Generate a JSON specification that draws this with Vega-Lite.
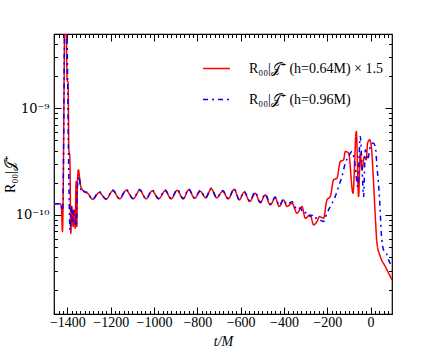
{
  "$schema": "https://vega.github.io/schema/vega-lite/v6.json",
  "width": 338,
  "height": 280,
  "autosize": "none",
  "padding": {"left": 54, "top": 34, "right": 44, "bottom": 35},
  "background": "white",
  "config": {
    "view": {"stroke": "black", "strokeWidth": 1.2},
    "font": "Liberation Serif",
    "axis": {"domain": false, "grid": false, "labelFont": "Liberation Serif", "labelFontSize": 14, "labelColor": "black", "tickColor": "black", "tickWidth": 1, "titleFont": "Liberation Serif", "titleFontWeight": "normal", "titleFontSize": 14, "titleColor": "black"}
  },
  "data": {"values": [
    {"s": "A", "t": -1461, "R": 1.27e-10},
    {"s": "A", "t": -1434, "R": 1.27e-10},
    {"s": "A", "t": -1428, "R": 1.2e-10},
    {"s": "A", "t": -1423, "R": 7.0e-11},
    {"s": "A", "t": -1409, "R": 2.0e-8},
    {"s": "A", "t": -1401.4, "R": 1.84e-9},
    {"s": "A", "t": -1396.8, "R": 1.73e-9},
    {"s": "A", "t": -1393.5, "R": 4.06e-10},
    {"s": "A", "t": -1388.9, "R": 3.52e-10},
    {"s": "A", "t": -1384.3, "R": 6.7e-11},
    {"s": "A", "t": -1379.7, "R": 1.2e-10},
    {"s": "A", "t": -1373.7, "R": 7.77e-11},
    {"s": "A", "t": -1369, "R": 1.11e-10},
    {"s": "A", "t": -1364.4, "R": 7.5e-11},
    {"s": "A", "t": -1359.8, "R": 2.05e-10},
    {"s": "A", "t": -1356.6, "R": 7.77e-11},
    {"s": "A", "t": -1353.8, "R": 1.98e-10},
    {"s": "A", "t": -1349.2, "R": 2.64e-10},
    {"s": "A", "t": -1342.7, "R": 2.13e-10},
    {"s": "A", "t": -1338.1, "R": 1.84e-10},
    {"s": "A", "t": -1330.7, "R": 1.72e-10},
    {"s": "A", "t": -1322.8, "R": 1.65e-10},
    {"s": "A", "t": -1307.6, "R": 1.6e-10},
    {"s": "A", "t": -1283.6, "R": 1.397e-10},
    {"s": "A", "t": -1253.5, "R": 1.618e-10},
    {"s": "A", "t": -1221.2, "R": 1.403e-10},
    {"s": "A", "t": -1190.2, "R": 1.679e-10},
    {"s": "A", "t": -1158.8, "R": 1.413e-10},
    {"s": "A", "t": -1128.7, "R": 1.697e-10},
    {"s": "A", "t": -1096.4, "R": 1.413e-10},
    {"s": "A", "t": -1066.4, "R": 1.697e-10},
    {"s": "A", "t": -1036.3, "R": 1.413e-10},
    {"s": "A", "t": -1008.6, "R": 1.679e-10},
    {"s": "A", "t": -978.6, "R": 1.413e-10},
    {"s": "A", "t": -948.5, "R": 1.679e-10},
    {"s": "A", "t": -920.8, "R": 1.413e-10},
    {"s": "A", "t": -893.1, "R": 1.697e-10},
    {"s": "A", "t": -865.4, "R": 1.413e-10},
    {"s": "A", "t": -839.9, "R": 1.715e-10},
    {"s": "A", "t": -812.2, "R": 1.428e-10},
    {"s": "A", "t": -786.8, "R": 1.661e-10},
    {"s": "A", "t": -761.4, "R": 1.443e-10},
    {"s": "A", "t": -736, "R": 1.753e-10},
    {"s": "A", "t": -710.5, "R": 1.443e-10},
    {"s": "A", "t": -682.8, "R": 1.661e-10},
    {"s": "A", "t": -657.4, "R": 1.413e-10},
    {"s": "A", "t": -629.7, "R": 1.734e-10},
    {"s": "A", "t": -606.6, "R": 1.382e-10},
    {"s": "A", "t": -583.5, "R": 1.632e-10},
    {"s": "A", "t": -558, "R": 1.338e-10},
    {"s": "A", "t": -532.6, "R": 1.597e-10},
    {"s": "A", "t": -509.5, "R": 1.296e-10},
    {"s": "A", "t": -486.4, "R": 1.539e-10},
    {"s": "A", "t": -463.3, "R": 1.241e-10},
    {"s": "A", "t": -440.2, "R": 1.443e-10},
    {"s": "A", "t": -421.7, "R": 1.201e-10},
    {"s": "A", "t": -401.9, "R": 1.382e-10},
    {"s": "A", "t": -386.2, "R": 1.196e-10},
    {"s": "A", "t": -363, "R": 1.287e-10},
    {"s": "A", "t": -339.9, "R": 1.037e-10},
    {"s": "A", "t": -316.8, "R": 1.196e-10},
    {"s": "A", "t": -301.6, "R": 9.31e-11},
    {"s": "A", "t": -278.5, "R": 1.0e-10},
    {"s": "A", "t": -263.2, "R": 8.06e-11},
    {"s": "A", "t": -247.5, "R": 8.65e-11},
    {"s": "A", "t": -235.5, "R": 9.64e-11},
    {"s": "A", "t": -217, "R": 9.31e-11},
    {"s": "A", "t": -201.3, "R": 1.382e-10},
    {"s": "A", "t": -186.1, "R": 1.484e-10},
    {"s": "A", "t": -170.8, "R": 2.128e-10},
    {"s": "A", "t": -155.1, "R": 2.208e-10},
    {"s": "A", "t": -139.8, "R": 3.16e-10},
    {"s": "A", "t": -124.6, "R": 3.28e-10},
    {"s": "A", "t": -116.7, "R": 3.92e-10},
    {"s": "A", "t": -101.5, "R": 3.79e-10},
    {"s": "A", "t": -81.2, "R": 1.597e-10},
    {"s": "A", "t": -65.9, "R": 6.03e-10},
    {"s": "A", "t": -55.3, "R": 1.484e-10},
    {"s": "A", "t": -47.4, "R": 3.79e-10},
    {"s": "A", "t": -39.6, "R": 2.64e-10},
    {"s": "A", "t": -28.9, "R": 3.52e-10},
    {"s": "A", "t": -19.7, "R": 3.28e-10},
    {"s": "A", "t": -13.7, "R": 4.7e-10},
    {"s": "A", "t": -4.5, "R": 5.05e-10},
    {"s": "A", "t": 3.4, "R": 4.37e-10},
    {"s": "A", "t": 14, "R": 1.982e-10},
    {"s": "A", "t": 21.9, "R": 9.64e-11},
    {"s": "A", "t": 29.7, "R": 5.43e-11},
    {"s": "A", "t": 45, "R": 4.07e-11},
    {"s": "A", "t": 68.1, "R": 3.28e-11},
    {"s": "A", "t": 99, "R": 2.46e-11},
    {"s": "B", "t": -1461, "R": 1.27e-10},
    {"s": "B", "t": -1434, "R": 1.27e-10},
    {"s": "B", "t": -1422, "R": 1.1e-10},
    {"s": "B", "t": -1409, "R": 2.5e-8},
    {"s": "B", "t": -1400, "R": 2.64e-9},
    {"s": "B", "t": -1395.4, "R": 4.06e-10},
    {"s": "B", "t": -1387.5, "R": 7.2e-11},
    {"s": "B", "t": -1381.5, "R": 1.2e-10},
    {"s": "B", "t": -1376.9, "R": 8.36e-11},
    {"s": "B", "t": -1372.3, "R": 1.11e-10},
    {"s": "B", "t": -1365.8, "R": 9.6e-11},
    {"s": "B", "t": -1359.8, "R": 7.77e-11},
    {"s": "B", "t": -1353.8, "R": 1.84e-10},
    {"s": "B", "t": -1346, "R": 2.29e-10},
    {"s": "B", "t": -1338.1, "R": 1.72e-10},
    {"s": "B", "t": -1330.7, "R": 1.78e-10},
    {"s": "B", "t": -1322.8, "R": 1.65e-10},
    {"s": "B", "t": -1307.6, "R": 1.62e-10},
    {"s": "B", "t": -1283.6, "R": 1.4e-10},
    {"s": "B", "t": -1253.5, "R": 1.65e-10},
    {"s": "B", "t": -1221.2, "R": 1.41e-10},
    {"s": "B", "t": -1190.2, "R": 1.71e-10},
    {"s": "B", "t": -1158.8, "R": 1.42e-10},
    {"s": "B", "t": -1128.7, "R": 1.73e-10},
    {"s": "B", "t": -1096.4, "R": 1.42e-10},
    {"s": "B", "t": -1066.4, "R": 1.73e-10},
    {"s": "B", "t": -1036.3, "R": 1.42e-10},
    {"s": "B", "t": -1008.6, "R": 1.71e-10},
    {"s": "B", "t": -978.6, "R": 1.42e-10},
    {"s": "B", "t": -948.5, "R": 1.71e-10},
    {"s": "B", "t": -920.8, "R": 1.42e-10},
    {"s": "B", "t": -893.1, "R": 1.73e-10},
    {"s": "B", "t": -865.4, "R": 1.42e-10},
    {"s": "B", "t": -839.9, "R": 1.75e-10},
    {"s": "B", "t": -812.2, "R": 1.44e-10},
    {"s": "B", "t": -786.8, "R": 1.69e-10},
    {"s": "B", "t": -761.4, "R": 1.45e-10},
    {"s": "B", "t": -736, "R": 1.78e-10},
    {"s": "B", "t": -710.5, "R": 1.45e-10},
    {"s": "B", "t": -682.8, "R": 1.69e-10},
    {"s": "B", "t": -657.4, "R": 1.42e-10},
    {"s": "B", "t": -629.7, "R": 1.76e-10},
    {"s": "B", "t": -606.6, "R": 1.39e-10},
    {"s": "B", "t": -583.5, "R": 1.66e-10},
    {"s": "B", "t": -558, "R": 1.35e-10},
    {"s": "B", "t": -532.6, "R": 1.63e-10},
    {"s": "B", "t": -509.5, "R": 1.31e-10},
    {"s": "B", "t": -486.4, "R": 1.57e-10},
    {"s": "B", "t": -463.3, "R": 1.26e-10},
    {"s": "B", "t": -440.2, "R": 1.47e-10},
    {"s": "B", "t": -421.7, "R": 1.22e-10},
    {"s": "B", "t": -401.9, "R": 1.4e-10},
    {"s": "B", "t": -386.2, "R": 1.25e-10},
    {"s": "B", "t": -363, "R": 1.33e-10},
    {"s": "B", "t": -340, "R": 1.12e-10},
    {"s": "B", "t": -324.7, "R": 1.16e-10},
    {"s": "B", "t": -310, "R": 1.03e-10},
    {"s": "B", "t": -293.7, "R": 1.06e-10},
    {"s": "B", "t": -280, "R": 9.7e-11},
    {"s": "B", "t": -270.6, "R": 9.9e-11},
    {"s": "B", "t": -258, "R": 9.2e-11},
    {"s": "B", "t": -247.5, "R": 9.4e-11},
    {"s": "B", "t": -230, "R": 8.9e-11},
    {"s": "B", "t": -217, "R": 8.65e-11},
    {"s": "B", "t": -201.3, "R": 1.037e-10},
    {"s": "B", "t": -186.1, "R": 1.196e-10},
    {"s": "B", "t": -163, "R": 1.484e-10},
    {"s": "B", "t": -147.7, "R": 1.842e-10},
    {"s": "B", "t": -132, "R": 2.286e-10},
    {"s": "B", "t": -116.7, "R": 3.05e-10},
    {"s": "B", "t": -101.5, "R": 3.52e-10},
    {"s": "B", "t": -85.8, "R": 3.92e-10},
    {"s": "B", "t": -70.5, "R": 2.84e-10},
    {"s": "B", "t": -59.9, "R": 1.842e-10},
    {"s": "B", "t": -47.4, "R": 5.42e-10},
    {"s": "B", "t": -39.6, "R": 2.84e-10},
    {"s": "B", "t": -32.2, "R": 1.484e-10},
    {"s": "B", "t": -24.3, "R": 4.07e-10},
    {"s": "B", "t": -13.7, "R": 3.28e-10},
    {"s": "B", "t": -1.2, "R": 4.37e-10},
    {"s": "B", "t": 11.3, "R": 4.7e-10},
    {"s": "B", "t": 21.9, "R": 4.37e-10},
    {"s": "B", "t": 29.7, "R": 2.84e-10},
    {"s": "B", "t": 41.8, "R": 1.382e-10},
    {"s": "B", "t": 49.6, "R": 6.74e-11},
    {"s": "B", "t": 60.2, "R": 4.7e-11},
    {"s": "B", "t": 72.7, "R": 4.38e-11},
    {"s": "B", "t": 83.3, "R": 3.79e-11},
    {"s": "B", "t": 99, "R": 3.28e-11}
  ]},
  "layer": [
    {
      "mark": {"type": "line", "clip": true, "interpolate": "monotone", "strokeWidth": 1.5},
      "encoding": {
        "x": {"field": "t", "type": "quantitative", "title": "t/M",
          "scale": {"domain": [-1462, 99], "nice": false, "zero": false},
          "axis": {"values": [-1460,-1440,-1420,-1400,-1380,-1360,-1340,-1320,-1300,-1280,-1260,-1240,-1220,-1200,-1180,-1160,-1140,-1120,-1100,-1080,-1060,-1040,-1020,-1000,-980,-960,-940,-920,-900,-880,-860,-840,-820,-800,-780,-760,-740,-720,-700,-680,-660,-640,-620,-600,-580,-560,-540,-520,-500,-480,-460,-440,-420,-400,-380,-360,-340,-320,-300,-280,-260,-240,-220,-200,-180,-160,-140,-120,-100,-80,-60,-40,-20,0,20,40,60,80],
            "format": "d", "labelExpr": "datum.value % 200 === 0 ? datum.label : ''",
            "tickSize": {"condition": {"test": "datum.value % 200 === 0", "value": -7}, "value": -3.5},
            "labelPadding": 8, "labelFlush": false, "labelOverlap": false, "titleFontStyle": "italic", "titlePadding": 2}
        },
        "y": {"field": "R", "type": "quantitative", "title": "R₀₀|𝒥⁺",
          "scale": {"type": "log", "domain": [1.18e-11, 4.94e-9], "nice": false},
          "axis": {"values": [2e-11,3e-11,4e-11,5e-11,6e-11,7e-11,8e-11,9e-11,1e-10,2e-10,3e-10,4e-10,5e-10,6e-10,7e-10,8e-10,9e-10,1e-9,2e-9,3e-9,4e-9],
            "labelExpr": "abs(datum.value - 1e-9) < 1e-12 ? '10⁻⁹' : (abs(datum.value - 1e-10) < 1e-13 ? '10⁻¹⁰' : '')",
            "labelFont": "DejaVu Serif", "labelFontSize": 13,
            "tickSize": {"condition": {"test": "abs(datum.value - 1e-9) < 1e-12 || abs(datum.value - 1e-10) < 1e-13", "value": -7}, "value": -3.5},
            "labelPadding": 12, "labelFlush": false, "labelOverlap": false, "titlePadding": -2}
        },
        "color": {"field": "s", "type": "nominal",
          "scale": {"domain": ["A", "B"], "range": ["#ff0000", "#0000ff"]},
          "legend": {"title": null, "orient": "none", "legendX": 148, "legendY": 20, "symbolType": "stroke", "symbolSize": 729, "symbolStrokeWidth": 1.5, "labelFont": "Liberation Serif", "labelFontSize": 14, "labelOffset": 18, "rowPadding": 9, "labelLimit": 300,
            "labelExpr": "datum.value === 'A' ? 'R₀₀|𝒥⁺ (h=0.64M) × 1.5' : 'R₀₀|𝒥⁺ (h=0.96M)'"}
        },
        "strokeDash": {"field": "s", "type": "nominal",
          "scale": {"domain": ["A", "B"], "range": [[1, 0], [5, 4, 2, 4]]},
          "legend": {"title": null, "orient": "none", "legendX": 148, "legendY": 20, "symbolType": "stroke", "symbolSize": 729, "symbolStrokeWidth": 1.5, "labelFont": "Liberation Serif", "labelFontSize": 14, "labelOffset": 18, "rowPadding": 9, "labelLimit": 300,
            "labelExpr": "datum.value === 'A' ? 'R₀₀|𝒥⁺ (h=0.64M) × 1.5' : 'R₀₀|𝒥⁺ (h=0.96M)'"}
        }
      }
    },
    {
      "mark": {"type": "line", "opacity": 0},
      "encoding": {
        "x": {"field": "t", "type": "quantitative",
          "axis": {"orient": "top", "title": null, "labels": false,
            "values": [-1460,-1440,-1420,-1400,-1380,-1360,-1340,-1320,-1300,-1280,-1260,-1240,-1220,-1200,-1180,-1160,-1140,-1120,-1100,-1080,-1060,-1040,-1020,-1000,-980,-960,-940,-920,-900,-880,-860,-840,-820,-800,-780,-760,-740,-720,-700,-680,-660,-640,-620,-600,-580,-560,-540,-520,-500,-480,-460,-440,-420,-400,-380,-360,-340,-320,-300,-280,-260,-240,-220,-200,-180,-160,-140,-120,-100,-80,-60,-40,-20,0,20,40,60,80],
            "tickSize": {"condition": {"test": "datum.value % 200 === 0", "value": -7}, "value": -3.5}}
        },
        "y": {"field": "R", "type": "quantitative",
          "axis": {"orient": "right", "title": null, "labels": false,
            "values": [2e-11,3e-11,4e-11,5e-11,6e-11,7e-11,8e-11,9e-11,1e-10,2e-10,3e-10,4e-10,5e-10,6e-10,7e-10,8e-10,9e-10,1e-9,2e-9,3e-9,4e-9],
            "tickSize": {"condition": {"test": "abs(datum.value - 1e-9) < 1e-12 || abs(datum.value - 1e-10) < 1e-13", "value": -7}, "value": -3.5}}
        },
        "detail": {"field": "s", "type": "nominal"}
      }
    }
  ],
  "resolve": {"axis": {"x": "independent", "y": "independent"}}
}
